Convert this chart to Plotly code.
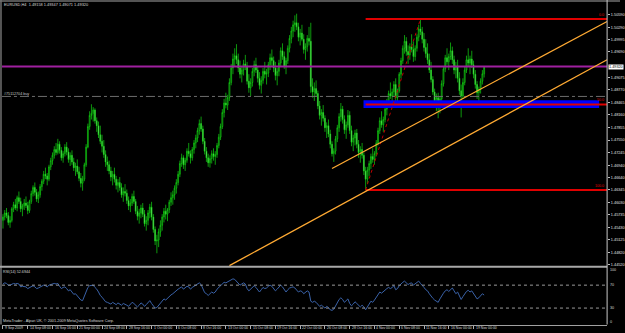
import plotly.graph_objects as go

# ---------------- data ----------------
symbol_title = "EURUSD,H4  1.49158 1.49347 1.49071 1.49320"
first_open = 1.4560

close = [
 1.4568,1.4578,1.4572,1.4555,1.4560,1.4588,1.4598,1.4590,1.4615,1.4606,
 1.4588,1.4595,1.4602,1.4596,1.4584,1.4606,1.4625,1.4640,1.4628,1.4612,
 1.4622,1.4642,1.4655,1.4672,1.4668,1.4660,1.4690,1.4705,1.4718,1.4732,
 1.4725,1.4745,1.4730,1.4712,1.4722,1.4738,1.4726,1.4708,1.4718,1.4702,
 1.4688,1.4692,1.4678,1.4662,1.4650,1.4660,1.4695,1.4738,1.4788,1.4815,
 1.4820,1.4828,1.4802,1.4790,1.4768,1.4752,1.4740,1.4720,1.4702,1.4695,
 1.4680,1.4665,1.4672,1.4660,1.4645,1.4652,1.4640,1.4622,1.4630,1.4626,
 1.4608,1.4595,1.4602,1.4618,1.4606,1.4582,1.4570,1.4578,1.4590,1.4575,
 1.4552,1.4560,1.4578,1.4592,1.4568,1.4538,1.4510,1.4512,1.4532,1.4548,
 1.4568,1.4582,1.4575,1.4586,1.4604,1.4615,1.4622,1.4638,1.4652,1.4672,
 1.4698,1.4712,1.4695,1.4706,1.4728,1.4722,1.4712,1.4732,1.4748,1.4760,
 1.4778,1.4795,1.4782,1.4752,1.4728,1.4712,1.4700,1.4710,1.4722,1.4715,
 1.4720,1.4742,1.4762,1.4788,1.4822,1.4845,1.4840,1.4858,1.4895,1.4930,
 1.4952,1.4960,1.4950,1.4930,1.4915,1.4925,1.4940,1.4935,1.4898,1.4882,
 1.4895,1.4922,1.4938,1.4925,1.4905,1.4888,1.4900,1.4922,1.4915,1.4918,
 1.4938,1.4955,1.4948,1.4930,1.4912,1.4922,1.4942,1.4972,1.4958,1.4935,
 1.4948,1.4978,1.5002,1.5020,1.5035,1.5040,1.5030,1.5005,1.5015,1.5000,
 1.4975,1.4982,1.5002,1.4995,1.4885,1.4872,1.4880,1.4868,1.4838,1.4815,
 1.4822,1.4808,1.4785,1.4790,1.4770,1.4745,1.4722,1.4728,1.4758,1.4785,
 1.4812,1.4830,1.4805,1.4780,1.4792,1.4815,1.4778,1.4750,1.4760,1.4772,
 1.4745,1.4725,1.4732,1.4718,1.4680,1.4660,1.4682,1.4698,1.4715,1.4708,
 1.4722,1.4748,1.4778,1.4802,1.4792,1.4805,1.4830,1.4848,1.4868,1.4862,
 1.4872,1.4890,1.4858,1.4875,1.4915,1.4948,1.4978,1.4995,1.4970,1.4962,
 1.4982,1.4975,1.4958,1.4978,1.5005,1.5025,1.5018,1.5000,1.4980,1.4965,
 1.4950,1.4925,1.4902,1.4872,1.4850,1.4858,1.4835,1.4855,1.4892,1.4928,
 1.4955,1.4945,1.4958,1.4972,1.4950,1.4925,1.4935,1.4905,1.4875,1.4862,
 1.4895,1.4925,1.4950,1.4942,1.4952,1.4938,1.4915,1.4890,1.4870,1.4878,
 1.4898,1.4916,1.4932]

high = [
 1.4575,1.4585,1.4590,1.4580,1.4570,1.4592,1.4605,1.4612,1.4620,1.4630,
 1.4615,1.4600,1.4612,1.4618,1.4605,1.4610,1.4632,1.4645,1.4652,1.4636,
 1.4630,1.4648,1.4660,1.4680,1.4688,1.4675,1.4695,1.4712,1.4725,1.4740,
 1.4748,1.4758,1.4752,1.4738,1.4728,1.4745,1.4750,1.4735,1.4725,1.4730,
 1.4712,1.4700,1.4708,1.4690,1.4675,1.4668,1.4700,1.4745,1.4795,1.4825,
 1.4842,1.4835,1.4832,1.4810,1.4800,1.4790,1.4768,1.4755,1.4730,1.4715,
 1.4705,1.4690,1.4680,1.4688,1.4668,1.4660,1.4665,1.4650,1.4640,1.4648,
 1.4635,1.4618,1.4612,1.4625,1.4632,1.4612,1.4595,1.4588,1.4598,1.4602,
 1.4585,1.4570,1.4585,1.4600,1.4605,1.4575,1.4545,1.4525,1.4540,1.4560,
 1.4575,1.4590,1.4598,1.4590,1.4610,1.4628,1.4632,1.4645,1.4660,1.4680,
 1.4705,1.4722,1.4718,1.4712,1.4735,1.4748,1.4730,1.4738,1.4755,1.4768,
 1.4785,1.4805,1.4812,1.4790,1.4760,1.4738,1.4722,1.4718,1.4730,1.4735,
 1.4728,1.4748,1.4770,1.4795,1.4830,1.4855,1.4870,1.4865,1.4905,1.4940,
 1.4965,1.4978,1.4988,1.4965,1.4948,1.4935,1.4950,1.4962,1.4945,1.4915,
 1.4905,1.4930,1.4948,1.4955,1.4935,1.4920,1.4910,1.4930,1.4945,1.4928,
 1.4945,1.4965,1.4975,1.4958,1.4945,1.4930,1.4950,1.4980,1.4990,1.4970,
 1.4955,1.4985,1.5010,1.5030,1.5045,1.5058,1.5062,1.5040,1.5025,1.5035,
 1.5012,1.4990,1.5010,1.5030,1.5040,1.4905,1.4895,1.4900,1.4875,1.4850,
 1.4830,1.4840,1.4815,1.4798,1.4805,1.4780,1.4752,1.4735,1.4765,1.4792,
 1.4820,1.4845,1.4838,1.4815,1.4800,1.4828,1.4825,1.4790,1.4768,1.4780,
 1.4782,1.4755,1.4740,1.4748,1.4725,1.4690,1.4690,1.4705,1.4722,1.4735,
 1.4728,1.4755,1.4785,1.4810,1.4825,1.4812,1.4838,1.4855,1.4875,1.4895,
 1.4880,1.4898,1.4905,1.4880,1.4920,1.4955,1.4985,1.5010,1.5005,1.4985,
 1.4990,1.5012,1.4995,1.4985,1.5012,1.5035,1.5049,1.5030,1.5015,1.5000,
 1.4990,1.4965,1.4945,1.4910,1.4880,1.4868,1.4870,1.4862,1.4900,1.4935,
 1.4962,1.4978,1.4965,1.4992,1.4982,1.4960,1.4945,1.4950,1.4920,1.4890,
 1.4905,1.4935,1.4960,1.4978,1.4960,1.4972,1.4948,1.4925,1.4898,1.4885,
 1.4905,1.4925,1.4935]

low = [
 1.4540,1.4560,1.4565,1.4548,1.4542,1.4555,1.4580,1.4585,1.4582,1.4600,
 1.4580,1.4570,1.4585,1.4590,1.4575,1.4578,1.4600,1.4618,1.4620,1.4605,
 1.4602,1.4615,1.4632,1.4648,1.4660,1.4645,1.4655,1.4682,1.4695,1.4710,
 1.4718,1.4720,1.4722,1.4705,1.4700,1.4715,1.4718,1.4700,1.4692,1.4695,
 1.4680,1.4668,1.4672,1.4655,1.4640,1.4632,1.4655,1.4690,1.4735,1.4780,
 1.4805,1.4800,1.4795,1.4775,1.4760,1.4745,1.4725,1.4712,1.4690,1.4680,
 1.4672,1.4655,1.4645,1.4652,1.4635,1.4628,1.4632,1.4615,1.4605,1.4618,
 1.4600,1.4585,1.4580,1.4595,1.4600,1.4575,1.4560,1.4552,1.4565,1.4568,
 1.4545,1.4535,1.4548,1.4565,1.4560,1.4530,1.4500,1.4480,1.4495,1.4520,
 1.4535,1.4555,1.4562,1.4558,1.4578,1.4595,1.4598,1.4610,1.4625,1.4645,
 1.4665,1.4690,1.4685,1.4680,1.4700,1.4715,1.4698,1.4705,1.4722,1.4735,
 1.4750,1.4768,1.4775,1.4745,1.4720,1.4702,1.4690,1.4688,1.4698,1.4705,
 1.4695,1.4712,1.4735,1.4755,1.4782,1.4810,1.4832,1.4828,1.4850,1.4888,
 1.4915,1.4935,1.4940,1.4920,1.4905,1.4895,1.4912,1.4925,1.4890,1.4870,
 1.4862,1.4885,1.4910,1.4918,1.4895,1.4878,1.4868,1.4892,1.4905,1.4890,
 1.4908,1.4925,1.4935,1.4920,1.4900,1.4888,1.4910,1.4935,1.4950,1.4928,
 1.4915,1.4940,1.4968,1.4990,1.5005,1.5018,1.5022,1.4995,1.4985,1.4995,
 1.4965,1.4950,1.4970,1.4985,1.4870,1.4858,1.4850,1.4862,1.4830,1.4805,
 1.4790,1.4800,1.4775,1.4760,1.4762,1.4735,1.4715,1.4702,1.4720,1.4750,
 1.4775,1.4800,1.4795,1.4770,1.4758,1.4785,1.4770,1.4740,1.4728,1.4742,
 1.4735,1.4712,1.4700,1.4710,1.4670,1.4634,1.4648,1.4668,1.4685,1.4700,
 1.4695,1.4715,1.4742,1.4770,1.4785,1.4775,1.4798,1.4815,1.4835,1.4855,
 1.4840,1.4860,1.4850,1.4845,1.4870,1.4905,1.4940,1.4965,1.4960,1.4940,
 1.4950,1.4968,1.4945,1.4948,1.4970,1.4995,1.5010,1.4990,1.4970,1.4955,
 1.4940,1.4918,1.4895,1.4865,1.4838,1.4825,1.4808,1.4820,1.4850,1.4885,
 1.4920,1.4938,1.4925,1.4950,1.4940,1.4915,1.4905,1.4895,1.4865,1.4810,
 1.4855,1.4888,1.4918,1.4935,1.4915,1.4930,1.4905,1.4880,1.4855,1.4850,
 1.4868,1.4890,1.4907]

rsi = [
 72,74,73,70,70,72,73,72,73,72,67,68,68,67,64,66,68,69,67,64,
 65,67,68,70,69,67,70,71,72,73,72,73,68,64,66,67,64,60,62,58,
 54,55,51,47,44,43,52,60,66,69,70,70,66,63,58,52,49,45,41,40,
 38,37,40,38,36,39,37,35,38,37,35,33,36,40,38,34,32,35,39,37,
 33,36,40,43,38,34,30,31,35,39,43,46,44,47,51,53,55,58,60,63,
 65,67,63,65,68,67,63,66,68,70,72,74,71,63,57,55,52,55,58,56,
 58,63,66,70,73,75,74,76,78,80,81,80,77,73,70,72,74,72,64,60,
 63,67,69,66,61,58,62,66,64,65,68,70,68,64,60,63,66,70,67,62,
 58,62,65,66,67,65,62,58,60,59,55,57,60,58,42,40,42,40,36,33,
 35,33,30,33,31,27,26,28,34,40,45,48,45,40,43,46,38,34,37,41,
 38,34,32,35,32,27,31,37,42,40,44,49,54,58,56,59,62,64,66,64,
 66,69,62,64,69,73,75,77,74,71,73,74,70,72,75,77,73,70,66,62,
 60,55,50,47,44,42,40,46,52,56,60,62,59,62,65,60,55,58,52,45,
 50,55,59,61,58,60,55,50,46,48,52,55,52.7]

price_ticks = ["1.44520","1.44820","1.45125","1.45430","1.45735","1.46030",
               "1.46345","1.46640","1.46940","1.47245","1.47550","1.47855",
               "1.48160","1.48465","1.48770","1.49075","1.49690","1.49995",
               "1.50290","1.50590"]
rsi_ticks = [100, 70, 30, 0]
date_labels = ["9 Sep 2009","14 Sep 08:00","16 Sep 16:00","21 Sep 00:00",
               "24 Sep 08:00","28 Sep 16:00","1 Oct 00:00","6 Oct 08:00",
               "8 Oct 16:00","13 Oct 00:00","15 Oct 08:00","19 Oct 16:00",
               "22 Oct 00:00","26 Oct 08:00","28 Oct 16:00","4 Nov 00:00",
               "6 Nov 08:00","11 Nov 16:00","16 Nov 00:00","19 Nov 00:00"]
date_label_bars = [0,14,28,42,56,70,84,98,112,126,140,154,168,182,196,210,224,238,252,266]

# drawn objects
fib_bars = [205, 236]            # fibo anchor bars (low, high)
fib_prices = [1.4634, 1.5049]
fib_levels = [0.0, 50.0, 100.0]
zone_bars = [203.8, 337]
zone_prices = [1.4833, 1.4852]
order_price = 1.4861
order_text = "#75112704 buy"
hline_price = 1.4934
last_price = 1.49320
trend_upper_bars = [186, 341.5]
trend_upper_prices = [1.4686, 1.5043]
trend_lower_bars = [128, 341.5]
trend_lower_prices = [1.4450, 1.4950]
rsi_label = "RSI(14) 52.6944"
copyright_text = "MetaTrader - Alpari UK, \u00a9 2001-2009 MetaQuotes Software Corp."

# ---------------- build ----------------
n = min(len(close), len(high), len(low), len(rsi))
close, high, low, rsi = close[:n], high[:n], low[:n], rsi[:n]
open_ = [first_open] + close[:-1]
idx = list(range(n))

W, H = 625, 333
def px_x(p): return p / W
def px_y(p): return 1 - p / H

X_RANGE = [-0.56, 341.5]
Y_RANGE = [1.44486, 1.5088]
R_RANGE = [1.3, 99.57]
FONT = "Liberation Sans"

fig = go.Figure()
fig.add_trace(go.Candlestick(
    x=idx, open=open_, high=high, low=low, close=close,
    xaxis="x", yaxis="y",
    increasing=dict(line=dict(color="#12D812", width=0.7), fillcolor="#000000"),
    decreasing=dict(line=dict(color="#12D812", width=0.7), fillcolor="#B8F0B8"),
    whiskerwidth=0, hoverinfo="skip", showlegend=False))

fig.add_trace(go.Scatter(x=idx, y=rsi, mode="lines", xaxis="x2", yaxis="y2",
                         line=dict(color="#3A62A8", width=1),
                         hoverinfo="skip", showlegend=False))

shapes = []
def seg(x0, y0, x1, y1, color, width, dash="solid", xref="x", yref="y"):
    shapes.append(dict(type="line", x0=x0, y0=y0, x1=x1, y1=y1, xref=xref, yref=yref,
                       line=dict(color=color, width=width, dash=dash), layer="above"))

# zone rectangle
shapes.append(dict(type="rect", x0=zone_bars[0], x1=zone_bars[1], y0=zone_prices[0],
                   y1=zone_prices[1], xref="x", yref="y", fillcolor="#0000FF",
                   line=dict(width=0), layer="above"))
# fibonacci
fib_rng = fib_prices[1] - fib_prices[0]
for lv in fib_levels:
    p = fib_prices[1] - fib_rng * lv / 100.0
    seg(fib_bars[0], p, X_RANGE[1], p, "#E00000", 2)
seg(fib_bars[0], fib_prices[0], fib_bars[1], fib_prices[1], "#C00000", 1, "dot")
# order line, horizontal line
seg(X_RANGE[0], order_price, X_RANGE[1], order_price, "#6E6E6E", 1, "dashdot")
seg(X_RANGE[0], hline_price, X_RANGE[1], hline_price, "#A020A0", 2)
# trendlines
seg(trend_upper_bars[0], trend_upper_prices[0], trend_upper_bars[1], trend_upper_prices[1], "#FFAA33", 1.3)
seg(trend_lower_bars[0], trend_lower_prices[0], trend_lower_bars[1], trend_lower_prices[1], "#FFAA33", 1.3)
# RSI levels
for lv in (70, 30):
    seg(X_RANGE[0], lv, X_RANGE[1], lv, "#9A9A9A", 1, "dot", "x2", "y2")

# frame
seg(0, px_y(1), 1, px_y(1), "#707070", 1.5, xref="paper", yref="paper")
seg(px_x(1), px_y(0), px_x(1), px_y(325.5), "#707070", 1.5, xref="paper", yref="paper")
seg(0, px_y(267.5), px_x(612), px_y(267.5), "#A8A8A8", 2, xref="paper", yref="paper")
seg(px_x(612), px_y(0), px_x(612), px_y(325.5), "#C8C8C8", 1, xref="paper", yref="paper")

ann = []
def text(x, y, s, size, color="#D8D8D8", xanchor="left", yanchor="middle",
         xref="paper", yref="paper", **kw):
    d = dict(x=x, y=y, text=s, showarrow=False, xref=xref, yref=yref,
             xanchor=xanchor, yanchor=yanchor, borderpad=0,
             font=dict(family=FONT, size=size, color=color))
    d.update(kw)
    ann.append(d)

text(px_x(3), px_y(4.5), symbol_title, 3.9)
text(px_x(3), px_y(94.5), order_text, 3.7, "#C8C8C8")
text(px_x(2), px_y(272.5), rsi_label, 3.7)
text(px_x(2), px_y(321.5), copyright_text, 3.8)
for lv in fib_levels:
    p = fib_prices[1] - fib_rng * lv / 100.0
    text(X_RANGE[1], p, "%.1f" % lv, 3.6, "#E00000", xanchor="right", yanchor="bottom",
         xref="x", yref="y", xshift=-2, yshift=1)
text(px_x(612.5), last_price, "%.5f" % last_price, 3.8, "#000000", yref="y",
     bgcolor="#FFFFFF")
rsi_label_y = {100: 271, 70: 286, 30: 309, 0: 323}
for v in rsi_ticks:
    text(px_x(614), px_y(rsi_label_y[v]), str(v), 3.7)
for b, s in zip(date_label_bars, date_labels):
    text(b, px_y(328.5), s, 3.5, xref="x2", xshift=1)

fig.update_layout(
    width=W, height=H, margin=dict(l=0, r=0, t=0, b=0),
    paper_bgcolor="#000000", plot_bgcolor="#000000", showlegend=False,
    shapes=shapes, annotations=ann,
    xaxis=dict(domain=[px_x(2), px_x(612)], range=X_RANGE, anchor="y",
               showticklabels=False, showgrid=False, zeroline=False, ticks="",
               rangeslider=dict(visible=False)),
    yaxis=dict(domain=[px_y(267), px_y(3)], range=Y_RANGE, side="right", anchor="x",
               tickvals=[float(t) for t in price_ticks], ticktext=price_ticks,
               ticks="outside", ticklen=2, tickcolor="#C0C0C0",
               tickfont=dict(family=FONT, size=3.8, color="#E0E0E0"),
               showgrid=False, zeroline=False),
    xaxis2=dict(domain=[px_x(2), px_x(612)], range=X_RANGE, anchor="y2", matches="x",
                showticklabels=False, showgrid=False, zeroline=False,
                ticks="outside", ticklen=3, tickcolor="#B0B0B0",
                tickvals=date_label_bars, showline=True, linecolor="#A0A0A0",
                linewidth=1),
    yaxis2=dict(domain=[px_y(325.5), px_y(269)], range=R_RANGE, side="right",
                anchor="x2", showticklabels=False, showgrid=False, zeroline=False,
                ticks=""),
)

fig.write_html("out.html", config={"displayModeBar": False})
